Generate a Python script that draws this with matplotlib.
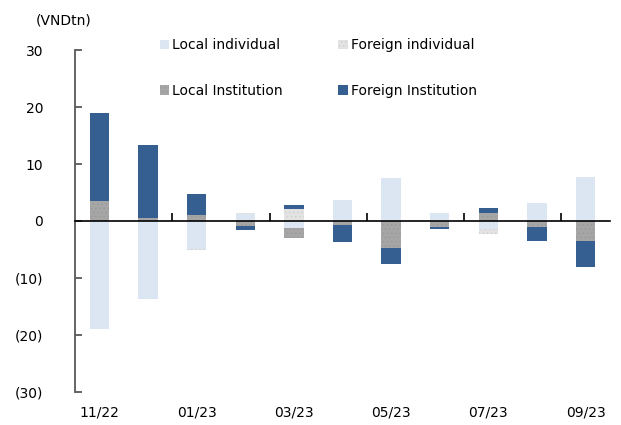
import numpy as np
import matplotlib
matplotlib.use('Agg')
import matplotlib.pyplot as plt
from matplotlib.patches import Patch

# dane (VNDtn)
months = ['11/22', '12/22', '01/23', '02/23', '03/23', '04/23',
          '05/23', '06/23', '07/23', '08/23', '09/23']
local_indiv = [-19.0, -13.7, -5.0, 1.3, -1.2, 3.6, 7.6, 1.4, -1.35, 3.2, 7.8]
foreign_indiv = [0.0, 0.0, -0.1, 0.1, 2.1, 0.1, 0.0, 0.05, -0.95, 0.0, 0.0]
local_inst = [3.5, 0.6, 1.0, -0.9, -1.7, -0.7, -4.7, -1.1, 1.45, -1.05, -3.5]
foreign_inst = [15.5, 12.8, 3.8, -0.6, 0.7, -3.0, -2.9, -0.3, 0.85, -2.45, -4.6]
yticks = [30, 20, 10, 0, -10, -20, -30]
ytick_labels = ['30', '20', '10', '0', '(10)', '(20)', '(30)']

series = [
    ('Local individual', local_indiv, '#DCE6F2', None, '#DCE6F2'),
    ('Foreign individual', foreign_indiv, '#E3E3E3', '....', '#CFCFCF'),
    ('Local Institution', local_inst, '#A6A6A6', '....', '#9A9A9A'),
    ('Foreign Institution', foreign_inst, '#355F91', None, '#355F91'),
]

plt.rcParams['font.family'] = 'DejaVu Sans'
plt.rcParams['hatch.linewidth'] = 0.6

fig = plt.figure(figsize=(6.21, 4.25), dpi=100)
ax = fig.add_axes([0.121, 0.078, 0.861, 0.804])

x = np.arange(len(months))
pos_bottom = np.zeros(len(months))
neg_bottom = np.zeros(len(months))
handles = {}
for name, vals, col, hatch, hcol in series:
    v = np.array(vals)
    bottom = np.where(v >= 0, pos_bottom, neg_bottom)
    ax.bar(x, v, width=0.4, bottom=bottom, color=col, hatch=hatch,
           edgecolor=hcol, linewidth=0, zorder=2)
    pos_bottom = pos_bottom + np.where(v >= 0, v, 0)
    neg_bottom = neg_bottom + np.where(v < 0, v, 0)
    handles[name] = Patch(facecolor=col, hatch=hatch, edgecolor=hcol, linewidth=0)

ax.set_xlim(-0.5, len(months) - 0.5)
ax.set_ylim(-30, 30)

# osie
for s in ['top', 'right']:
    ax.spines[s].set_visible(False)
ax.spines['left'].set_color('#595959')
ax.spines['left'].set_linewidth(1.3)
ax.spines['bottom'].set_position(('data', 0))
ax.spines['bottom'].set_color('black')
ax.spines['bottom'].set_linewidth(1.2)

ax.set_yticks(yticks)
ax.set_yticklabels(ytick_labels, fontsize=10)
ax.tick_params(axis='y', direction='in', length=5, color='#595959', width=1.3, pad=23)

ax.set_xticks(np.arange(1.5, len(months) - 1, 2))
ax.set_xticklabels([])
ax.tick_params(axis='x', direction='in', length=6, width=1.2, color='black')

for i in range(0, len(months), 2):
    ax.text(i, -0.06, months[i], transform=ax.get_xaxis_transform(),
            ha='center', va='center', fontsize=10)

fig.text(0.102, 0.951, '(VNDtn)', ha='center', va='center', fontsize=10)

order = ['Local individual', 'Local Institution', 'Foreign individual', 'Foreign Institution']
ax.legend([handles[n] for n in order], order, ncol=2, frameon=False,
          loc='upper left', bbox_to_anchor=(0.257, 0.91), bbox_transform=fig.transFigure,
          fontsize=10, handlelength=0.7, handleheight=0.7, handletextpad=0.2,
          columnspacing=4.0, labelspacing=2.3, borderpad=0, borderaxespad=0)

fig.savefig('out.png', dpi=100)
